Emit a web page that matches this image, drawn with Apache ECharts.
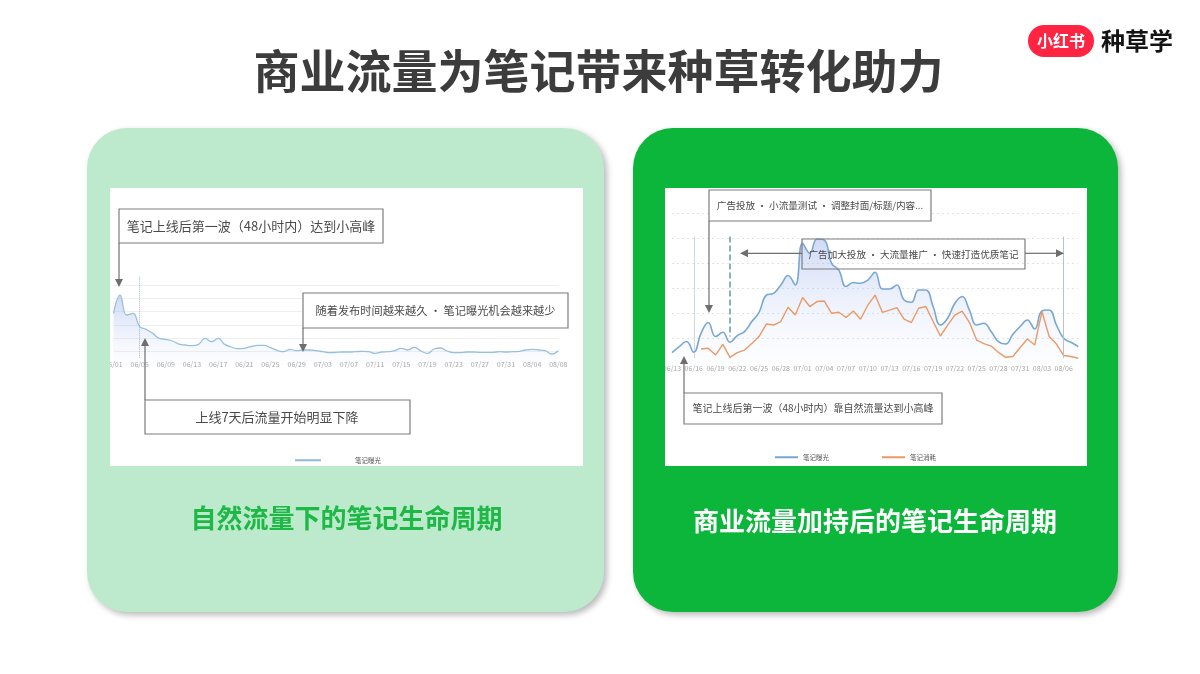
<!DOCTYPE html>
<html><head><meta charset="utf-8">
<script src="https://cdn.jsdelivr.net/npm/echarts@6/dist/echarts.min.js"></script>
<style>html,body{margin:0;padding:0;background:#fff}#c{width:1200px;height:674px}</style>
</head><body><div id="c"></div>
<script>
const FONT = '"Noto Sans CJK SC","Noto Sans",sans-serif';

// ---- left chart: natural traffic ----
const leftDates = ['06/01','06/02','06/03','06/04','06/05','06/06','06/07','06/08','06/09','06/10',
'06/11','06/12','06/13','06/14','06/15','06/16','06/17','06/18','06/19','06/20',
'06/21','06/22','06/23','06/24','06/25','06/26','06/27','06/28','06/29','06/30',
'07/01','07/02','07/03','07/04','07/05','07/06','07/07','07/08','07/09','07/10',
'07/11','07/12','07/13','07/14','07/15','07/16','07/17','07/18','07/19','07/20',
'07/21','07/22','07/23','07/24','07/25','07/26','07/27','07/28','07/29','07/30',
'07/31','08/01','08/02','08/03','08/04','08/05','08/06','08/07','08/08'];
const leftExposure = [155,210,150,155,115,107,95,80,77,72,
63,60,58,62,80,70,80,62,54,49,
50,55,59,59,52,44,40,47,43,45,
45,43,40,37,38,39,39,40,41,40,
35,39,40,43,50,45,53,42,35,48,
51,42,37,37,39,39,38,38,38,40,
39,40,41,45,47,45,43,33,43];

// ---- right chart: with commercial traffic ----
const rightDates = ['06/13','06/14','06/15','06/16','06/17','06/18','06/19','06/20','06/21','06/22',
'06/23','06/24','06/25','06/26','06/27','06/28','06/29','06/30',
'07/01','07/02','07/03','07/04','07/05','07/06','07/07','07/08','07/09','07/10',
'07/11','07/12','07/13','07/14','07/15','07/16','07/17','07/18','07/19','07/20',
'07/21','07/22','07/23','07/24','07/25','07/26','07/27','07/28','07/29','07/30',
'07/31','08/01','08/02','08/03','08/04','08/05','08/06','08/07','08/08'];
const rightExposure = [43,67,87,44,120,163,107,124,84,111,
127,167,204,273,280,313,351,313,480,440,
497,493,400,373,307,323,320,333,364,297,
297,313,253,244,293,293,227,153,180,240,
267,213,153,160,127,87,77,116,147,173,
137,209,213,153,100,84,67];
const rightSpend = ['-','-','-','-',57,60,33,76,24,43,
53,79,107,157,153,167,224,193,263,227,
247,249,200,204,183,209,176,233,273,204,
213,223,177,163,220,227,167,109,153,193,
209,164,93,79,69,44,24,27,63,97,
73,207,107,77,31,27,20];

const legendNames = ['笔记曝光','笔记消耗'];
const titleText = '商业流量为笔记带来种草转化助力';
const leftCaption = '自然流量下的笔记生命周期';
const rightCaption = '商业流量加持后的笔记生命周期';

const GRAY = '#6e6e6e';
function box(x,y,w,h,fill){return {type:'rect',z:20,shape:{x:x,y:y,width:w,height:h},style:{fill:fill,stroke:'#7d7d7d',lineWidth:1.2}};}
function txt(x,y,text,size,color,weight){return {type:'text',z:21,x:x,y:y,style:{text:text,fontSize:size,fontFamily:FONT,fontWeight:weight||'normal',fill:color||'#4a4a4a',textAlign:'center',align:'center',textVerticalAlign:'middle',verticalAlign:'middle'}};}
function seg(x1,y1,x2,y2){return {type:'line',z:20,shape:{x1:x1,y1:y1,x2:x2,y2:y2},style:{stroke:GRAY,lineWidth:1.2}};}
function tri(p){return {type:'polygon',z:20,shape:{points:p},style:{fill:GRAY}};}
function vArrow(x,y0,tip){const d=tip>y0?1:-1;return [seg(x,y0,x,tip-d*8),tri([[x-4,tip-d*8],[x+4,tip-d*8],[x,tip]])];}

const S = ' · ';
const graphics = [
  {type:'rect',z:-10,shape:{x:87,y:128,width:517,height:484,r:40},style:{fill:'#bdeacc',shadowBlur:6,shadowOffsetX:3,shadowOffsetY:3,shadowColor:'rgba(0,0,0,0.28)'}},
  {type:'rect',z:-10,shape:{x:633,y:128,width:485,height:484,r:40},style:{fill:'#0cb63b',shadowBlur:6,shadowOffsetX:3,shadowOffsetY:3,shadowColor:'rgba(0,0,0,0.28)'}},
  {type:'rect',z:-9,shape:{x:110,y:188,width:473,height:278},style:{fill:'#ffffff'}},
  {type:'rect',z:-9,shape:{x:665,y:188,width:422,height:278},style:{fill:'#ffffff'}},
  // clip label overflow outside white boxes
  {type:'rect',z:30,shape:{x:92,y:358,width:18,height:14},style:{fill:'#bdeacc'}},
  {type:'rect',z:30,shape:{x:645,y:362,width:20,height:14},style:{fill:'#0cb63b'}},
  // title
  txt(598.5,71,titleText,46,'#3c3c3c','bold'),
  // logo
  {type:'rect',z:20,shape:{x:1028,y:25,width:66,height:32,r:16},style:{fill:'#ff2442'}},
  txt(1061,41,'小红书',16,'#ffffff','bold'),
  txt(1137,41,'种草学',24,'#141414','bold'),
  // captions
  txt(346.5,518,leftCaption,26,'#1eb847','bold'),
  txt(875,521,rightCaption,26,'#ffffff','bold'),
  // left annotations
  box(119,209,264,34,'#ffffff'),
  txt(251,226,'笔记上线后第一波（48小时内）达到小高峰',13),
  ...vArrow(119,243,287),
  box(303,293,265,35,'#ffffff'),
  txt(435.5,310.5,'随着发布时间越来越久'+S+'笔记曝光机会越来越少',11.2),
  ...vArrow(303,328,352),
  box(145,400,265,34,'#ffffff'),
  txt(277,417,'上线7天后流量开始明显下降',13),
  ...vArrow(145,400,338),
  // right annotations
  box(709,190,222,31,'#ffffff'),
  txt(820,205.5,'广告投放'+S+'小流量测试'+S+'调整封面/标题/内容...',9.6),
  ...vArrow(709,221,313),
  box(802,239,223,30,'rgba(255,255,255,0)'),
  txt(913.5,254,'广告加大投放'+S+'大流量推广'+S+'快速打造优质笔记',9.6),
  seg(748,253.3,802,253.3), tri([[740,253.3],[748,249.3],[748,257.3]]),
  seg(1025,253.3,1056,253.3), tri([[1064,253.3],[1056,249.3],[1056,257.3]]),
  box(684,393,258,31,'#ffffff'),
  txt(813,408.5,'笔记上线后第一波（48小时内）靠自然流量达到小高峰',10),
  ...vArrow(684,393,356)
];

function grad(a,b){return new echarts.graphic.LinearGradient(0,0,0,1,[{offset:0,color:a},{offset:1,color:b}]);}
const axisLab = {fontSize:7,color:'#a6a6a6',fontFamily:FONT};

const option = {
  backgroundColor:'#ffffff',
  animation:false,
  graphic:{elements:graphics},
  grid:[
    {left:113.5,top:271.7,width:444.8,height:93.3},
    {left:672,top:213.3,width:406.2,height:150}
  ],
  xAxis:[
    {gridIndex:0,type:'category',data:leftDates,boundaryGap:false,axisLine:{show:false},axisTick:{show:false},
     axisLabel:Object.assign({interval:3,margin:-4},axisLab)},
    {gridIndex:1,type:'category',data:rightDates,boundaryGap:false,axisLine:{show:false},axisTick:{show:false},
     axisLabel:Object.assign({interval:2,margin:2},axisLab)}
  ],
  yAxis:[
    {gridIndex:0,type:'value',min:0,max:280,interval:40,axisLabel:{show:false},axisLine:{show:false},axisTick:{show:false},
     splitLine:{show:true,showMinLine:false,showMaxLine:false,lineStyle:{color:'#efefef',width:1}}},
    {gridIndex:1,type:'value',min:0,max:600,interval:100,axisLabel:{show:false},axisLine:{show:false},axisTick:{show:false},
     splitLine:{show:true,showMinLine:false,lineStyle:{color:'#e3e3e3',width:1,type:[2,3]}}}
  ],
  legend:[
    {left:290,top:452,itemWidth:26,itemHeight:2,icon:'rect',selectedMode:false,
     data:[{name:legendNames[0],itemStyle:{color:'#8fb8da'}}],
     textStyle:{fontSize:6.5,color:'#555',fontFamily:FONT,padding:[0,0,0,29]}},
    {left:770,top:449,itemWidth:23,itemHeight:2,icon:'rect',itemGap:53,selectedMode:false,
     data:[{name:legendNames[0],itemStyle:{color:'#79a7d3'}},{name:legendNames[1],itemStyle:{color:'#e99a66'}}],
     textStyle:{fontSize:6.5,color:'#555',fontFamily:FONT}}
  ],
  series:[
    {name:legendNames[0],type:'line',xAxisIndex:0,yAxisIndex:0,data:leftExposure,smooth:0.45,symbol:'none',
     lineStyle:{color:'#98c0dc',width:1.3},itemStyle:{color:'#98c0dc'},
     areaStyle:{color:grad('rgba(115,145,230,0.5)','rgba(200,215,245,0.05)')},
     markLine:{silent:true,symbol:'none',label:{show:false},
       lineStyle:{color:'#9dbbd0',type:'dotted',width:1},
       data:[[{coord:['06/05',265]},{coord:['06/05',20]}]]}},
    {name:legendNames[0],type:'line',xAxisIndex:1,yAxisIndex:1,data:rightExposure,smooth:0.45,symbol:'none',
     lineStyle:{color:'#79a7d3',width:1.6},itemStyle:{color:'#79a7d3'},
     areaStyle:{color:grad('rgba(120,150,230,0.5)','rgba(220,230,250,0.1)')},
     markLine:{silent:true,symbol:'none',label:{show:false},
       data:[
         [{coord:['06/16',507],lineStyle:{color:'#9db3c0',type:'dotted',width:1}},{coord:['06/16',20]}],
         [{coord:['06/21',507],lineStyle:{color:'#5e9ab0',type:'dashed',width:1.5}},{coord:['06/21',107]}],
         [{coord:['08/06',507],lineStyle:{color:'#b8c4cc',type:'solid',width:1}},{coord:['08/06',20]}]
       ]}},
    {name:legendNames[1],type:'line',xAxisIndex:1,yAxisIndex:1,data:rightSpend,smooth:false,symbol:'none',
     lineStyle:{color:'#e99a66',width:1.4},itemStyle:{color:'#e99a66'}}
  ]
};
const chart = echarts.init(document.getElementById('c'),null,{renderer:'canvas'});
chart.setOption(option);
</script></body></html>
